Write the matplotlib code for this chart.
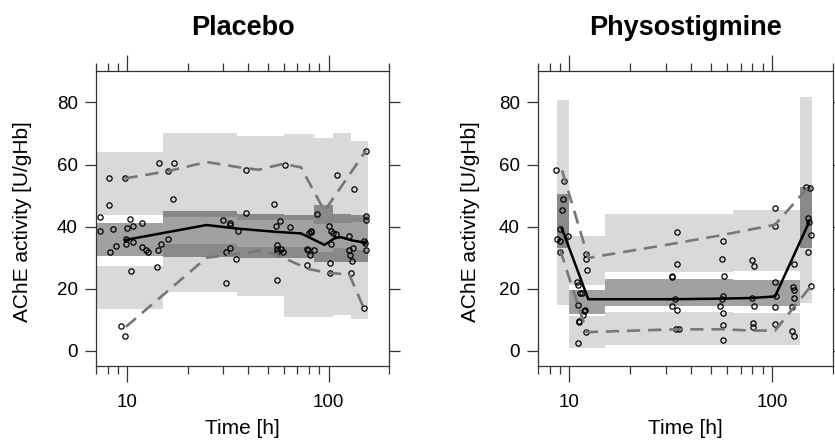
import numpy as np
import matplotlib
matplotlib.use("Agg")
import matplotlib.pyplot as plt
from matplotlib.ticker import NullFormatter, FixedLocator, FixedFormatter

plt.rcParams['font.family'] = ['Liberation Sans', 'DejaVu Sans']

# ---- Placebo ----
pla_edges = [7, 15, 35, 60, 85, 105, 129, 157]
pla_hi_lo = [43.8, 43.0, 42.0, 42.0, 40.9, 41.0, 41.4]
pla_hi_up = [63.9, 70.3, 69.3, 69.9, 68.6, 70.0, 67.7]
pla_md_lo = [30.6, 30.1, 29.9, 29.9, 28.7, 28.5, 28.7]
pla_md_up = [41.3, 44.9, 44.1, 43.8, 46.8, 44.1, 43.8]
pla_lo_lo = [13.4, 18.8, 17.5, 10.8, 10.8, 11.5, 10.2]
pla_lo_up = [27.4, 34.4, 33.3, 33.5, 31.7, 33.0, 32.5]

pla_t = [7.35, 7.35, 8.09, 8.09, 8.2, 8.46, 8.79, 9.3, 9.7, 9.7, 9.85, 9.85, 10.0,
         10.3, 10.4, 10.7, 10.7, 11.8, 11.9, 12.4, 12.7, 14.0, 14.3, 14.4, 14.8,
         15.9, 16.0, 16.9, 17.0, 30.0, 31.1, 31.1, 32.3, 32.3, 32.5, 34.7, 35.5,
         38.8, 39.0, 53.6, 55.0, 55.3, 55.7, 55.5, 55.7, 57.4, 57.8, 59.7, 60.8,
         64.1, 77.8, 78.4, 79.2, 80.0, 80.8, 81.4, 82.0, 84.9, 87.5, 101, 102, 102,
         103, 103, 105, 109, 110, 127, 127, 128, 129, 131, 132, 134.6, 149.6, 150,
         151, 153.5, 153.5, 153.5, 153.5]
pla_v = [43.0, 38.7, 55.6, 47.1, 31.9, 39.2, 33.9, 8.0, 4.6, 55.5, 36.0, 34.4, 39.6,
         42.3, 25.6, 40.1, 34.9, 33.5, 41.0, 32.5, 31.8, 27.1, 32.4, 60.4, 34.4,
         57.8, 36.0, 48.8, 60.5, 42.2, 21.9, 31.8, 41.1, 40.6, 33.1, 29.4, 38.6,
         58.3, 44.3, 47.2, 40.1, 34.0, 32.7, 31.8, 22.7, 41.9, 32.7, 31.9, 60.0,
         39.8, 32.7, 27.6, 32.3, 37.8, 30.9, 38.7, 38.4, 32.5, 44.1, 40.1, 28.2, 25.0,
         34.4, 38.7, 37.8, 37.6, 56.5, 37.1, 32.5, 31.0, 25.0, 28.8, 33.0, 52.2, 13.8,
         35.3, 34.8, 43.3, 42.2, 32.3, 64.5]

pla_med_t = [9.8, 24.8, 36, 55, 73, 95.5, 107, 115, 130, 152]
pla_med_v = [35.7, 40.5, 39.3, 38.3, 37.8, 34.1, 36.2, 36.6, 35.6, 34.8]
pla_p95_t = [9.7, 15.8, 24.8, 36, 45, 59.4, 73, 95.5, 153.5]
pla_p95_v = [55.5, 57.8, 60.8, 59.1, 58.3, 60.2, 59.1, 45.0, 64.5]
pla_p05_t = [9.85, 24.8, 36, 47, 59, 73, 80, 101, 109, 127, 150]
pla_p05_v = [7.7, 30.0, 31.2, 32.3, 30.1, 27.4, 26.3, 25.0, 24.9, 24.5, 13.6]

# ---- Physostigmine ----
phy_edges = [8.66, 10, 15, 64.5, 138, 157]
phy_hi_lo = [40.0, 21.3, 25.5, 25.8, 40.0]
phy_hi_up = [80.8, 37.1, 44.1, 45.2, 81.7]
phy_md_lo = [33.1, 11.9, 14.5, 14.5, 33.1]
phy_md_up = [50.6, 19.7, 23.2, 22.7, 52.9]
phy_lo_lo = [14.8, 0.9, 2.0, 1.9, 15.4]
phy_lo_up = [40.0, 11.1, 12.6, 12.3, 40.0]

phy_t = [8.63, 8.66, 8.96, 8.96, 8.96, 9.31, 9.2, 9.38, 9.8, 10.9, 11.0, 11.0, 11.1,
         11.2, 11.0, 11.3, 11.5, 11.8, 11.7, 12.0, 12.1, 12.1, 12.2, 12.1, 32.1,
         32.1, 33.9, 33.9, 32.1, 34.1, 33.7, 34.9, 33.2, 55.5, 57.5, 56.5, 58.1,
         57.5, 57, 57, 57.5, 56.5, 80, 81.8, 81.8, 81, 81, 80, 103.5, 103, 103, 103,
         105, 103.5, 128, 127, 128, 128, 126, 126, 128, 148, 154, 150, 153, 155, 151,
         155]
phy_v = [58.1, 36.0, 35.4, 31.8, 39.3, 48.9, 45.3, 54.6, 37.1, 22.3, 21.3, 14.8, 9.5,
         9.1, 2.5, 18.6, 18.6, 12.7, 11.6, 13.2, 31.3, 29.5, 25.9, 6.0, 24.2, 23.6,
         38.1, 27.9, 14.3, 13.0, 7.1, 7.1, 16.6, 14.3, 35.4, 29.6, 24.0, 17.5, 12.1,
         8.2, 3.5, 16.6, 29.3, 27.2, 14.5, 8.9, 7.8, 17.0, 46.0, 40.3, 22.1, 14.1,
         17.5, 8.6, 27.9, 20.5, 19.7, 17.0, 14.1, 6.4, 4.6, 52.6, 52.4, 42.7, 41.5,
         37.4, 31.7, 20.9]

phy_med_t = [9.17, 12.4, 33.3, 57, 80, 103.5, 152]
phy_med_v = [39.5, 16.6, 16.6, 16.8, 17.0, 17.5, 41.3]
phy_p95_t = [9.2, 12.4, 33.3, 57, 103.5, 152]
phy_p95_v = [58.1, 29.9, 34.6, 37.3, 40.6, 52.9]
phy_p05_t = [9.0, 12.2, 33.3, 57, 80, 103.5, 156]
phy_p05_v = [32.5, 6.0, 6.9, 6.9, 6.5, 6.5, 20.9]

major_x = [10, 100]
minor_x = [7, 8, 9, 20, 30, 40, 50, 60, 70, 80, 90, 200]
y_ticks = [0, 20, 40, 60, 80]

panels = [
    ("Placebo", pla_edges, (pla_hi_lo, pla_hi_up), (pla_md_lo, pla_md_up),
     (pla_lo_lo, pla_lo_up), pla_t, pla_v, (pla_med_t, pla_med_v),
     (pla_p95_t, pla_p95_v), (pla_p05_t, pla_p05_v)),
    ("Physostigmine", phy_edges, (phy_hi_lo, phy_hi_up), (phy_md_lo, phy_md_up),
     (phy_lo_lo, phy_lo_up), phy_t, phy_v, (phy_med_t, phy_med_v),
     (phy_p95_t, phy_p95_v), (phy_p05_t, phy_p05_v)),
]

fig = plt.figure(figsize=(8.35, 4.47), dpi=100)
rects = [[0.115, 0.182, 0.351, 0.659], [0.6443, 0.182, 0.3533, 0.659]]
ylab_x = [-0.217, -0.197]
spine_col = '#333333'

for i, (title, edges, hi, md, lo, t, v, med, p95, p05) in enumerate(panels):
    ax = fig.add_axes(rects[i])
    # prediction interval bands
    for k in range(len(edges) - 1):
        x0, x1 = edges[k], edges[k + 1]
        ax.fill_between([x0, x1], hi[0][k], hi[1][k], color='black', alpha=0.15, lw=0)
        ax.fill_between([x0, x1], lo[0][k], lo[1][k], color='black', alpha=0.15, lw=0)
        ax.fill_between([x0, x1], md[0][k], md[1][k], color='black', alpha=0.37, lw=0)
    ax.plot(t, v, 'o', ms=3.8, mfc='none', mec='black', mew=0.9)
    ax.plot(p95[0], p95[1], color='#777777', lw=1.9, dashes=[5, 3])
    ax.plot(p05[0], p05[1], color='#777777', lw=1.9, dashes=[5, 3])
    ax.plot(med[0], med[1], color='black', lw=1.8)

    ax.set_xscale('log')
    ax.set_xlim(7, 200)
    ax.set_ylim(-4.8, 90.1)
    ax.xaxis.set_major_locator(FixedLocator(major_x))
    ax.xaxis.set_major_formatter(FixedFormatter([str(x) for x in major_x]))
    ax.xaxis.set_minor_locator(FixedLocator(minor_x))
    ax.xaxis.set_minor_formatter(NullFormatter())
    ax.set_yticks(y_ticks)
    ax.tick_params(which='both', direction='out', top=True, right=True,
                   labeltop=False, labelright=False, labelsize=13.5,
                   color=spine_col, width=0.9)
    ax.tick_params(axis='x', which='major', length=11.5, pad=9)
    ax.tick_params(axis='x', which='minor', length=5.8, width=0.9)
    ax.tick_params(axis='y', which='major', length=8, pad=5)
    for s in ax.spines.values():
        s.set_color(spine_col)
        s.set_linewidth(0.9)

    ax.set_title(title, fontsize=19.5, fontweight='bold', pad=26)
    ax.set_xlabel('Time [h]', fontsize=15, labelpad=6)
    ax.set_ylabel('AChE activity [U/gHb]', fontsize=15)
    ax.yaxis.set_label_coords(ylab_x[i], 0.49)

fig.savefig('out.png', dpi=100)
